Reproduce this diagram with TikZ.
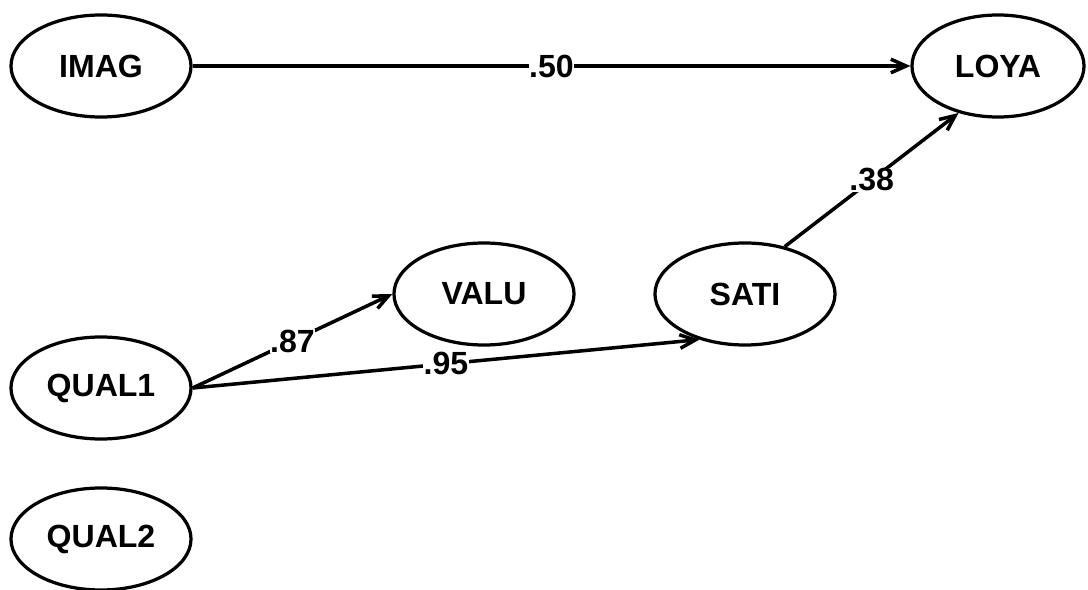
\documentclass[tikz,border=0pt]{standalone}
\usepackage{fontspec}
\setmainfont{Liberation Sans}
\usetikzlibrary{arrows.meta,shapes.geometric}
\tikzset{
  latent/.style={ellipse, draw, line width=2.3pt, minimum width=4.5cm, minimum height=2.55cm, inner sep=0pt, font=\fontsize{22.8}{26}\selectfont\bfseries},
  path/.style={line width=2.5pt, -{Straight Barb[length=0.38cm,width=0.34cm,line width=2.5pt]}},
  coef/.style={fill=white, inner sep=0.5pt, font=\fontsize{22.8}{26}\selectfont\bfseries}
}

\begin{document}
\begin{tikzpicture}[x=0.025cm, y=-0.025cm]
			%%%%% START %%%%%
			\useasboundingbox (0, 0) rectangle (1088, 590);
			
			\node[latent] (IMAG) at (101, 66) {IMAG};
			\node[latent, minimum width=4.3cm] (LOYA) at (998, 66) {LOYA};
			
			\node[latent] (VALU) at (484, 294) {VALU};
			\node[latent] (SATI) at (745, 294) {SATI};
			
			\node[latent] (QUAL1) at (101, 388) {QUAL1};
			\node[latent] (QUAL2) at (101, 539) {QUAL2};
			
			\draw[path] (IMAG.east) -- (LOYA.west) node[coef, pos=0.5] {.50};
			\draw[path] (SATI.50) -- (LOYA.230) node[coef, pos=0.5] {.38};
			\draw[path] (QUAL1.east) -- (VALU.west) node[coef, pos=0.5] {.87};
			\draw[path] (QUAL1.east) -- (SATI.225) node[coef, pos=0.5] {.95};
			
			%%%%% END %%%%%
		\end{tikzpicture}
\end{document}
